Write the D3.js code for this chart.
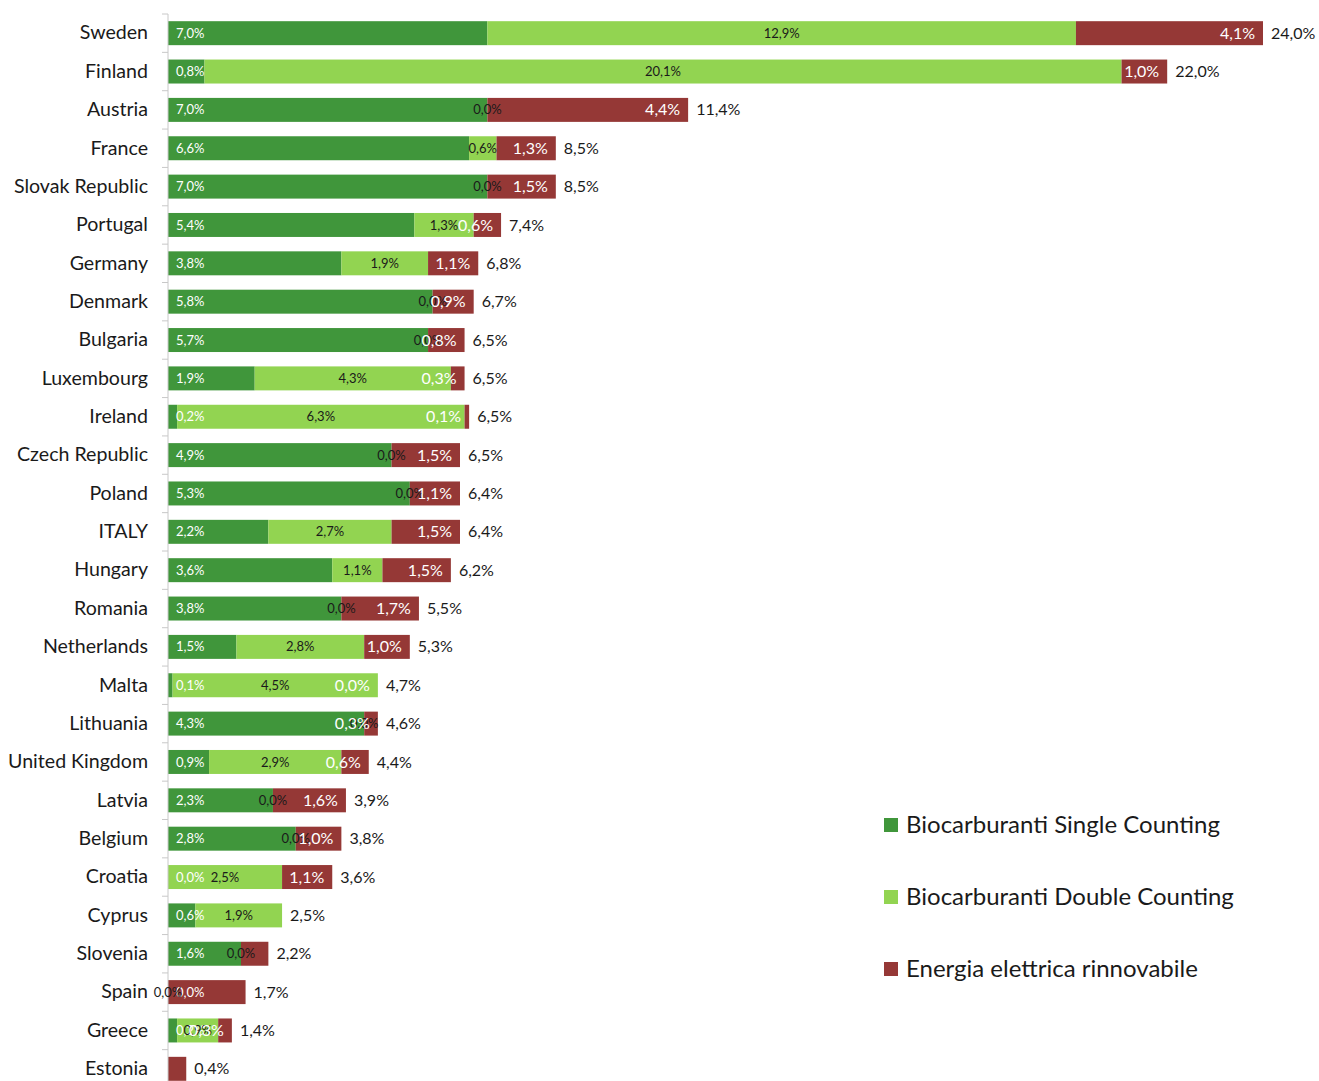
<!DOCTYPE html>
<html>
<head>
<meta charset="utf-8">
<script src="https://cdn.jsdelivr.net/npm/d3@7"></script>
<style>
  body { margin: 0; background: #fff; }
  svg text { font-family: Lato, "Open Sans", sans-serif; }
</style>
</head>
<body>
<div id="chart"></div>
<script>
const countries = ["Sweden","Finland","Austria","France","Slovak Republic","Portugal","Germany","Denmark",
    "Bulgaria","Luxembourg","Ireland","Czech Republic","Poland","ITALY","Hungary","Romania","Netherlands",
    "Malta","Lithuania","United Kingdom","Latvia","Belgium","Croatia","Cyprus","Slovenia","Spain","Greece","Estonia"];
const singleCounting = [7.0,0.8,7.0,6.6,7.0,5.4,3.8,5.8,5.7,1.9,0.2,4.9,5.3,2.2,3.6,3.8,1.5,0.1,4.3,0.9,2.3,2.8,0.0,0.6,1.6,0.0,0.2,0.0];
const doubleCounting = [12.9,20.1,0.0,0.6,0.0,1.3,1.9,0.0,0.0,4.3,6.3,0.0,0.0,2.7,1.1,0.0,2.8,4.5,0.0,2.9,0.0,0.0,2.5,1.9,0.0,0.0,0.9,0.0];
const renewableElec = [4.1,1.0,4.4,1.3,1.5,0.6,1.1,0.9,0.8,0.3,0.1,1.5,1.1,1.5,1.5,1.7,1.0,0.0,0.3,0.6,1.6,1.0,1.1,0.0,0.6,1.7,0.3,0.4];
const totals = [24.0,22.0,11.4,8.5,8.5,7.4,6.8,6.7,6.5,6.5,6.5,6.5,6.4,6.4,6.2,5.5,5.3,4.7,4.6,4.4,3.9,3.8,3.6,2.5,2.2,1.7,1.4,0.4];
const seriesNames = ["Biocarburanti Single Counting","Biocarburanti Double Counting","Energia elettrica rinnovabile"];
// labels that do not show in the original
const hiddenLabels = ["Cyprus|elec","Slovenia|elec","Spain|elec","Estonia|single","Estonia|double","Estonia|elec"];

const width = 1319, height = 1081;
const keys = ["single","double","elec"];
const colors = {single:"#40963b", double:"#92d451", elec:"#953836"};

const rows = countries.map((c,i) => ({
    country: c, single: singleCounting[i], double: doubleCounting[i], elec: renewableElec[i], total: totals[i]
}));

const stacked = d3.stack().keys(keys)(rows);

const x = d3.scaleLinear().domain([0,24]).range([168,1263]);
const y = d3.scaleBand().domain(countries).range([14,1088]).paddingInner(0.375).paddingOuter(0.1875);

const fmt = v => d3.format(".1f")(v).replace(".", ",") + "%";

const svg = d3.select("#chart").append("svg")
    .attr("width", width).attr("height", height);

// bars
svg.append("g").selectAll("g")
    .data(stacked)
    .join("g")
    .attr("fill", d => colors[d.key])
    .selectAll("rect")
    .data(d => d)
    .join("rect")
    .attr("x", d => x(d[0]))
    .attr("y", d => y(d.data.country))
    .attr("width", d => x(d[1]) - x(d[0]))
    .attr("height", y.bandwidth());

// y axis
const yAxis = svg.append("g")
    .attr("transform", `translate(${x(0)},0)`)
    .call(d3.axisLeft(y).tickSize(0).tickPadding(20));
yAxis.select(".domain").remove();
yAxis.selectAll("text").attr("font-size", 19.6).attr("fill", "#1a1a1a")
    .style("font-family", "Lato, sans-serif");

svg.append("line")
    .attr("x1", x(0)).attr("x2", x(0))
    .attr("y1", y.range()[0]).attr("y2", height)
    .attr("stroke", "#c8c8c8");
svg.append("g").selectAll("line")
    .data(countries)
    .join("line")
    .attr("x1", x(0) - 6).attr("x2", x(0))
    .attr("y1", d => y(d) - y.step() * 0.1875)
    .attr("y2", d => y(d) - y.step() * 0.1875)
    .attr("stroke", "#c8c8c8");

// segment labels
const mid = y.bandwidth() / 2;
const isHidden = (d, k) => hiddenLabels.includes(d.data.country + "|" + k);

const labelG = svg.append("g");
stacked.forEach(s => {
    labelG.append("g").selectAll("text")
        .data(s.filter(d => !isHidden(d, s.key)))
        .join("text")
        .attr("y", d => y(d.data.country) + mid)
        .attr("dy", "0.35em")
        .attr("x", d => s.key === "single" ? x(d[0]) + 8 : s.key === "double" ? (x(d[0]) + x(d[1])) / 2 : x(d[1]) - 8)
        .attr("text-anchor", s.key === "single" ? "start" : s.key === "double" ? "middle" : "end")
        .attr("font-size", s.key === "elec" ? 16 : 13)
        .attr("fill", s.key === "double" ? "#1a1a1a" : "#fff")
        .text(d => fmt(d.data[s.key]));
});

// totals
svg.append("g").selectAll("text")
    .data(rows)
    .join("text")
    .attr("x", d => x(d.single + d.double + d.elec) + 8)
    .attr("y", d => y(d.country) + mid)
    .attr("dy", "0.35em")
    .attr("font-size", 16)
    .attr("fill", "#1a1a1a")
    .text(d => fmt(d.total));

// legend
const legend = svg.append("g").selectAll("g")
    .data(keys)
    .join("g")
    .attr("transform", (d,i) => `translate(884,${825 + i*72})`);
legend.append("rect")
    .attr("x", 0).attr("y", -7).attr("width", 14).attr("height", 14)
    .attr("fill", d => colors[d]);
legend.append("text")
    .attr("x", 22).attr("dy", "0.35em")
    .attr("font-size", 24)
    .attr("fill", "#1a1a1a")
    .text((d,i) => seriesNames[i]);
</script>
</body>
</html>
